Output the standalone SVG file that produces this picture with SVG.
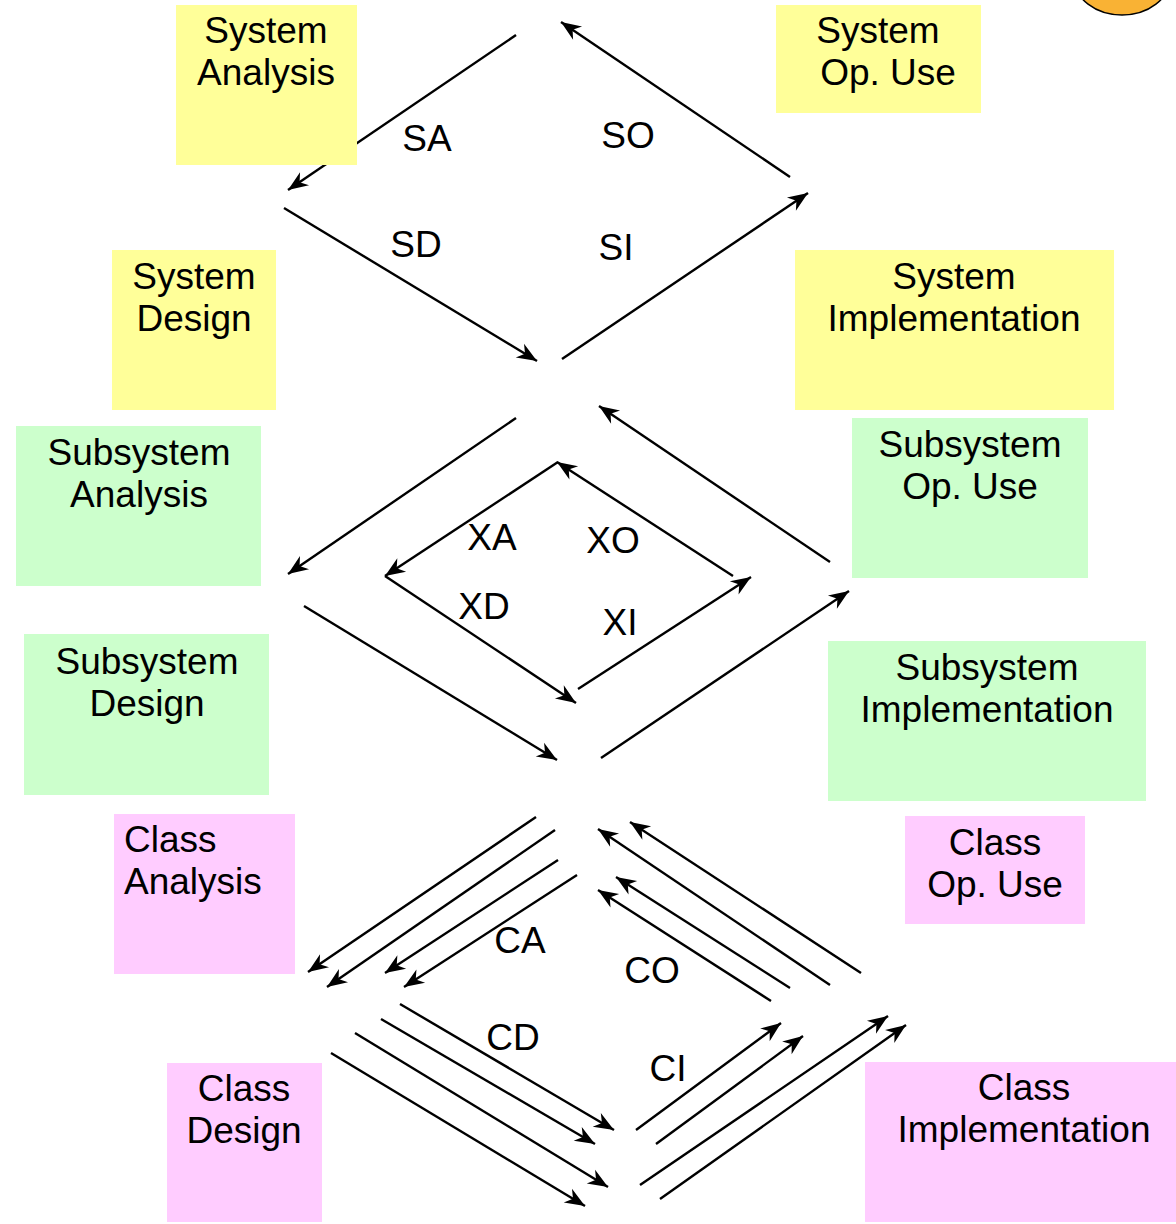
<svg xmlns="http://www.w3.org/2000/svg" width="1176" height="1224" viewBox="0 0 1176 1224">
<style>
.c line{stroke:#000;stroke-width:2.4;fill:none;marker-end:url(#ah)}
text{font-family:"Liberation Sans",Arial,sans-serif;font-size:37px;fill:#000}
.m{text-anchor:middle}
.y{fill:#ffff99}
.g{fill:#ccffcc}
.p{fill:#ffccff}
</style>
<defs>
<marker id="ah" markerUnits="userSpaceOnUse" markerWidth="24" markerHeight="20" viewBox="-20 -10 22 20" refX="0" refY="0" orient="auto">
<path d="M0,0 L-20,-8 L-14,0 L-20,8 Z" fill="#000"/>
</marker>
</defs>
<rect width="1176" height="1224" fill="#fff"/>
<ellipse cx="1122" cy="-22" rx="48" ry="37" fill="#f9b234" stroke="#000" stroke-width="1.5"/>
<g class="c" id="connectors">
<line x1="516" y1="35" x2="288" y2="190"/>
<line x1="790" y1="177" x2="561" y2="22"/>
<line x1="284" y1="208" x2="537" y2="361"/>
<line x1="562" y1="359" x2="808" y2="193"/>
<line x1="516" y1="418" x2="288" y2="574"/>
<line x1="830" y1="562" x2="599" y2="406"/>
<line x1="304" y1="606" x2="557" y2="760"/>
<line x1="601" y1="758" x2="849" y2="591"/>
<line x1="558" y1="462" x2="385" y2="576"/>
<line x1="385" y1="576" x2="576" y2="703"/>
<line x1="578" y1="689" x2="751" y2="577"/>
<line x1="733" y1="576" x2="557" y2="462"/>
<line x1="536" y1="817" x2="308" y2="972"/>
<line x1="555" y1="830" x2="327" y2="987"/>
<line x1="558" y1="860" x2="385" y2="973"/>
<line x1="577" y1="875" x2="404" y2="987"/>
<line x1="861" y1="973" x2="630" y2="822"/>
<line x1="830" y1="985" x2="598" y2="829"/>
<line x1="790" y1="988" x2="616" y2="877"/>
<line x1="771" y1="1001" x2="598" y2="890"/>
<line x1="400" y1="1004" x2="614" y2="1130"/>
<line x1="381" y1="1019" x2="595" y2="1144"/>
<line x1="355" y1="1033" x2="608" y2="1187"/>
<line x1="331" y1="1053" x2="585" y2="1206"/>
<line x1="636" y1="1130" x2="781" y2="1023"/>
<line x1="656" y1="1144" x2="803" y2="1036"/>
<line x1="640" y1="1185" x2="888" y2="1016"/>
<line x1="660" y1="1199" x2="906" y2="1025"/>
</g>
<g id="labels">
<text class="m" x="427" y="151">SA</text>
<text class="m" x="628" y="148">SO</text>
<text class="m" x="416" y="257">SD</text>
<text class="m" x="616" y="260">SI</text>
<text class="m" x="492" y="550">XA</text>
<text class="m" x="613" y="553">XO</text>
<text class="m" x="484" y="619">XD</text>
<text class="m" x="620" y="635">XI</text>
<text class="m" x="520" y="953">CA</text>
<text class="m" x="652" y="983">CO</text>
<text class="m" x="513" y="1050">CD</text>
<text class="m" x="668" y="1081">CI</text>
</g>
<g id="system-analysis"><rect class="y" x="176" y="5" width="181" height="160"/><text class="m" x="266" y="43">System</text><text class="m" x="266" y="85">Analysis</text></g>
<g id="system-op-use"><rect class="y" x="776" y="5" width="205" height="108"/><text class="m" x="878" y="43">System</text><text class="m" x="888" y="85">Op. Use</text></g>
<g id="system-design"><rect class="y" x="112" y="250" width="164" height="160"/><text class="m" x="194" y="289">System</text><text class="m" x="194" y="331">Design</text></g>
<g id="system-implementation"><rect class="y" x="795" y="250" width="319" height="160"/><text class="m" x="954" y="289">System</text><text class="m" x="954" y="331">Implementation</text></g>
<g id="subsystem-analysis"><rect class="g" x="16" y="426" width="245" height="160"/><text class="m" x="139" y="465">Subsystem</text><text class="m" x="139" y="507">Analysis</text></g>
<g id="subsystem-op-use"><rect class="g" x="852" y="418" width="236" height="160"/><text class="m" x="970" y="457">Subsystem</text><text class="m" x="970" y="499">Op. Use</text></g>
<g id="subsystem-design"><rect class="g" x="24" y="634" width="245" height="161"/><text class="m" x="147" y="674">Subsystem</text><text class="m" x="147" y="716">Design</text></g>
<g id="subsystem-implementation"><rect class="g" x="828" y="641" width="318" height="160"/><text class="m" x="987" y="680">Subsystem</text><text class="m" x="987" y="722">Implementation</text></g>
<g id="class-analysis"><rect class="p" x="114" y="814" width="181" height="160"/><text x="124" y="852">Class</text><text x="124" y="894">Analysis</text></g>
<g id="class-op-use"><rect class="p" x="905" y="816" width="180" height="108"/><text class="m" x="995" y="855">Class</text><text class="m" x="995" y="897">Op. Use</text></g>
<g id="class-design"><rect class="p" x="167" y="1063" width="155" height="159"/><text class="m" x="244" y="1101">Class</text><text class="m" x="244" y="1143">Design</text></g>
<g id="class-implementation"><rect class="p" x="865" y="1062" width="311" height="160"/><text class="m" x="1024" y="1100">Class</text><text class="m" x="1024" y="1142">Implementation</text></g>
</svg>
